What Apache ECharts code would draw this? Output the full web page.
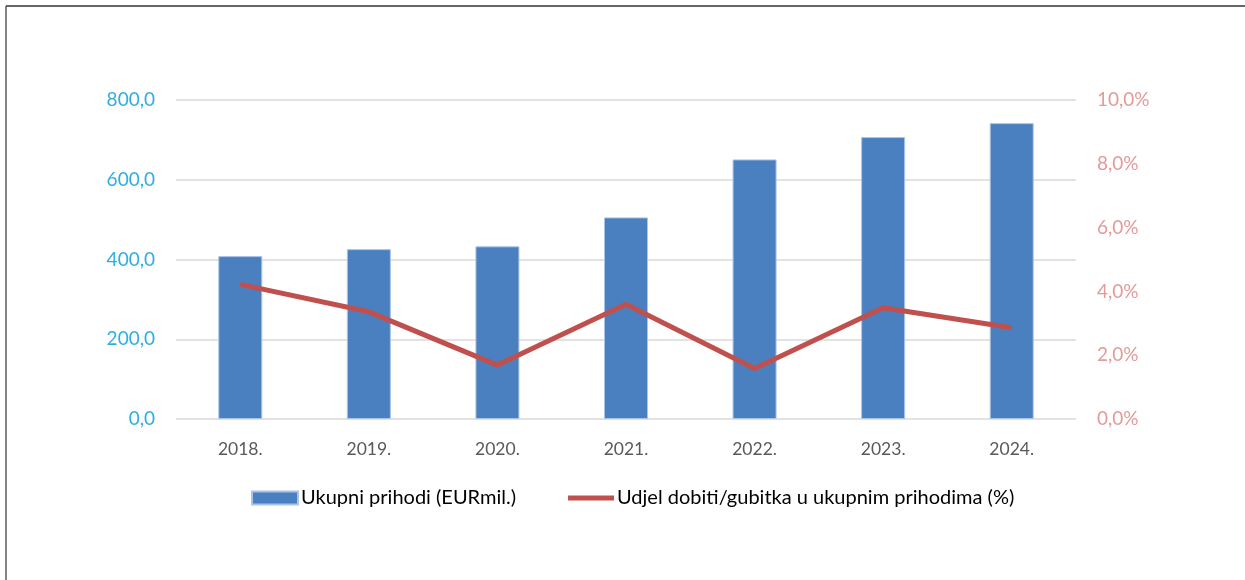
<!DOCTYPE html>
<html>
<head>
<meta charset="utf-8">
<script src="https://cdn.jsdelivr.net/npm/echarts@6/dist/echarts.min.js"></script>
<style>
html,body{margin:0;padding:0;background:#fff;}
#c{width:1245px;height:580px;}
</style>
</head>
<body>
<div id="c"></div>
<script>
const categories = ['2018.', '2019.', '2020.', '2021.', '2022.', '2023.', '2024.'];
const revenue = [408.5, 426, 433, 505.6, 651, 707, 742];
const profitShare = [4.22, 3.36, 1.69, 3.6, 1.58, 3.49, 2.86];
const revenueName = 'Ukupni prihodi (EURmil.)';
const shareName = 'Udjel dobiti/gubitka u ukupnim prihodima (%)';

const FONT = 'Lato, "Open Sans", sans-serif';
const chart = echarts.init(document.getElementById('c'));
chart.setOption({
  animation: false,
  backgroundColor: '#fff',
  graphic: [
    {type: 'line', shape: {x1: 6, y1: 6, x2: 1245, y2: 6}, style: {stroke: '#333', lineWidth: 1.6}},
    {type: 'line', shape: {x1: 6, y1: 6, x2: 6, y2: 580}, style: {stroke: '#333', lineWidth: 1.2}}
  ],
  grid: {left: 176, right: 169, top: 100, bottom: 161},
  legend: {
    left: 246, top: 483,
    itemGap: 52,
    itemWidth: 46, itemHeight: 13,
    textStyle: {fontFamily: FONT, fontSize: 20, color: '#000', padding: [0, 0, 0, -2]},
    data: [
      {name: revenueName, icon: 'rect'},
      {name: shareName, icon: 'path://M0,0 L46,0 L46,5 L0,5 Z'}
    ]
  },
  xAxis: {
    type: 'category',
    data: categories,
    axisLine: {show: false},
    axisTick: {show: false},
    axisLabel: {fontFamily: FONT, fontSize: 17.5, color: '#595959', margin: 21}
  },
  yAxis: [
    {
      type: 'value', min: 0, max: 800, interval: 200,
      axisLine: {show: false}, axisTick: {show: false},
      splitLine: {lineStyle: {color: '#d9d9d9', width: 1.5}},
      axisLabel: {fontFamily: FONT, fontSize: 19, color: '#2FAEE4', margin: 21,
        formatter: v => v.toFixed(1).replace('.', ',')}
    },
    {
      type: 'value', min: 0, max: 10, interval: 2, position: 'right',
      axisLine: {show: false}, axisTick: {show: false},
      splitLine: {show: false},
      axisLabel: {fontFamily: FONT, fontSize: 19, color: '#E39A9A', margin: 21,
        formatter: v => v.toFixed(1).replace('.', ',') + '%'}
    }
  ],
  series: [
    {
      name: revenueName, type: 'bar', data: revenue, yAxisIndex: 0,
      barWidth: 44,
      itemStyle: {color: '#4A80BF', borderColor: '#A9C4E6', borderWidth: 1}
    },
    {
      name: shareName, type: 'line', data: profitShare, yAxisIndex: 1,
      symbol: 'none',
      lineStyle: {color: '#C0504D', width: 5, join: 'round'},
      itemStyle: {color: '#C0504D'}
    }
  ]
});
</script>
</body>
</html>
